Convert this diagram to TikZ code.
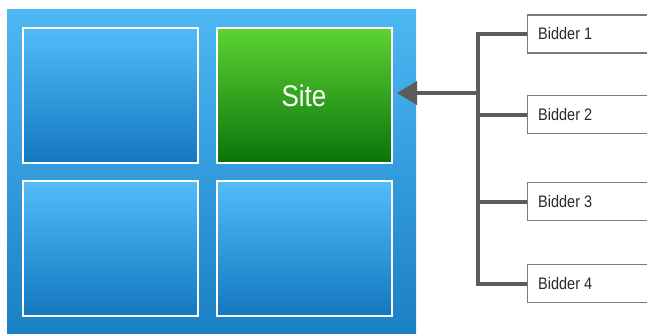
\documentclass[tikz,border=0pt]{standalone}
\usepackage{fontspec}
\setmainfont{Liberation Sans}
\usetikzlibrary{arrows.meta}
\definecolor{outtop}{HTML}{4DB8F4}
\definecolor{outbot}{HTML}{1A7EC3}
\definecolor{intop}{HTML}{52BCF9}
\definecolor{inbot}{HTML}{1377BF}
\definecolor{grtop}{HTML}{5DD334}
\definecolor{grbot}{HTML}{0A730A}
\definecolor{conn}{HTML}{5C5C5C}
\definecolor{bidline}{HTML}{7A7A7A}
\definecolor{bidtext}{HTML}{2A2A2A}
\tikzset{
  panel/.style={draw=white, line width=2pt, minimum width=175pt, minimum height=135pt, inner sep=0pt, top color=intop, bottom color=inbot},
  sitepanel/.style={panel, top color=grtop, bottom color=grbot},
  bidbox/.style={draw=bidline, line width=1.3pt, fill=white, minimum width=140pt, minimum height=38pt, inner sep=0pt, anchor=west},
  link/.style={draw=conn, line width=4pt},
}
\begin{document}
\begin{tikzpicture}[x=1pt,y=-1pt]
\useasboundingbox (0,0) rectangle (647,333);
\clip (0,0) rectangle (647,333);
\node[minimum width=409pt, minimum height=332pt, inner sep=0pt, top color=outtop, bottom color=outbot] (frame) at (211.5,175.5) {};
\node[panel] (p1) at (110.5,95.5) {};
\node[sitepanel] (site) at (304,95.5) {\color{white}\scalebox{1}[1.15]{\fontsize{26}{28}\selectfont Site}};
\node[panel] (p3) at (110.5,248.5) {};
\node[panel] (p4) at (304,248.5) {};
\node[bidbox] (b1) at (527,34) {};
\node[bidbox] (b2) at (527,114.5) {};
\node[bidbox] (b3) at (527,201.5) {};
\node[bidbox] (b4) at (527,283.5) {};
\foreach \i in {1,...,4}{
  \node[anchor=west, inner sep=0pt, text=bidtext] (t\i) at ([xshift=11pt]b\i.west) {\scalebox{1}[1.15]{\fontsize{14.5}{16}\selectfont Bidder \i}};
}
\coordinate (j) at (478,93);
\coordinate (tip) at (397,93);
\draw[link, line cap=butt] (b1.west) -| (478,34) -- (478,283.5) -- (b4.west);
\draw[link] (478,114.5) -- (b2.west);
\draw[link] (478,201.5) -- (b3.west);
\draw[link, -{Triangle[length=20pt,width=23pt]}] (j) -- (tip);
\end{tikzpicture}
\end{document}
